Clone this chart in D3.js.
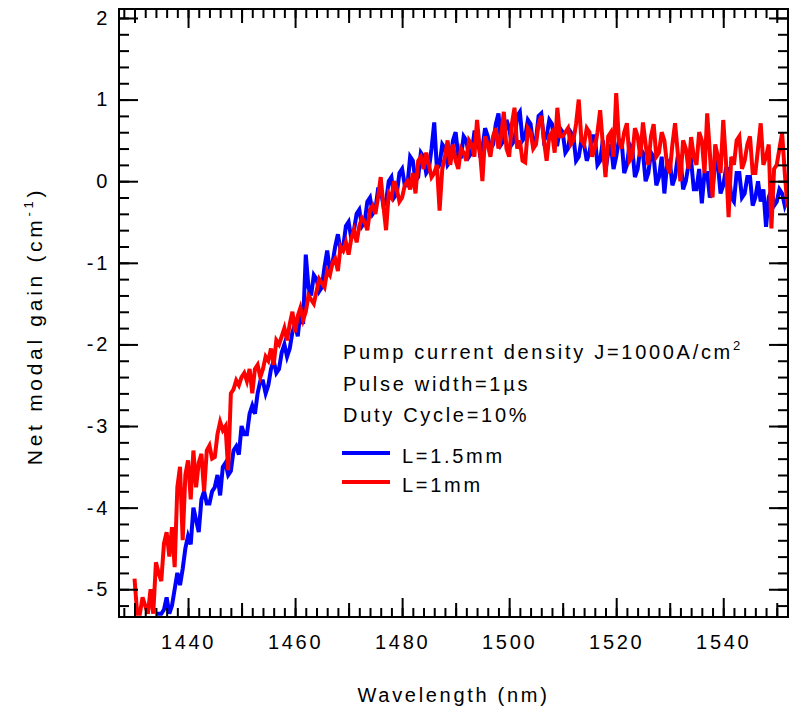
<!DOCTYPE html>
<html>
<head>
<meta charset="utf-8">
<script src="https://cdn.jsdelivr.net/npm/d3@7"></script>
<style>
  body { margin: 0; background: #fff; }
  text { font-family: "Liberation Sans", Arial, sans-serif; }
</style>
</head>
<body>
<script>
// wavelength of first point (nm) and spacing between points
var blueStart = 1434;
var redStart = 1430;
var step = 0.5;

// L=1.5mm, net modal gain (cm-1)
var blueGain = [
  -5.3, -5.3, -5.3, -5.25, -5.1, -5.3, -5.2, -5.0, -4.8, -4.95,
  -4.75, -4.5, -4.35, -4.45, -4.0, -4.15, -4.3, -3.9, -3.8, -3.95,
  -3.95, -3.8, -3.75, -3.6, -3.85, -3.5, -3.45, -3.6, -3.55, -3.3,
  -3.25, -3.35, -3.0, -3.1, -3.1, -2.85, -2.75, -2.85, -2.6, -2.45,
  -2.45, -2.6, -2.5, -2.3, -2.2, -2.35, -2.3, -2.1, -2.0, -2.15,
  -2.05, -1.85, -1.75, -1.9, -1.6, -1.75, -0.9, -1.3, -1.4, -1.15,
  -1.2, -1.35, -1.3, -1.05, -0.85, -1.1, -1.0, -0.8, -0.65, -0.85,
  -0.8, -0.55, -0.5, -0.7, -0.6, -0.4, -0.35, -0.55, -0.5, -0.25,
  -0.2, -0.4, -0.35, -0.1, -0.1, -0.3, -0.25, 0.0, 0.05, -0.2,
  -0.15, 0.1, 0.15, -0.05, -0.05, 0.3, 0.25, 0.0, 0.05, 0.35,
  0.3, 0.1, 0.15, 0.4, 0.72, 0.15, 0.2, 0.45, 0.4, 0.2,
  0.25, 0.5, 0.6, 0.3, 0.3, 0.55, 0.5, 0.3, 0.35, 0.6,
  0.6, 0.35, 0.4, 0.65, 0.55, 0.4, 0.45, 0.7, 0.83, 0.45,
  0.5, 0.75, 0.65, 0.45, 0.5, 0.8, 0.85, 0.5, 0.55, 0.75,
  0.7, 0.45, 0.5, 0.8, 0.83, 0.5, 0.55, 0.75, 0.7, 0.45,
  0.45, 0.65, 0.6, 0.35, 0.4, 0.6, 0.55, 0.25, 0.3, 0.5,
  0.45, 0.25, 0.35, 0.55, 0.55, 0.2, 0.25, 0.5, 0.13, 0.35,
  0.45, 0.15, 0.3, 0.5, 0.5, 0.1, 0.2, 0.45, 0.4, 0.05,
  0.15, 0.4, 0.35, 0.0, 0.1, 0.35, 0.3, -0.05, 0.05, 0.3,
  -0.15, 0.2, 0.25, -0.05, 0.05, 0.3, 0.3, -0.1, 0.0, 0.2,
  0.25, -0.1, -0.1, 0.15, -0.27, 0.1, 0.1, -0.2, -0.1, 0.25,
  0.2, -0.15, -0.05, 0.15, 0.15, -0.2, -0.25, 0.1, 0.1, -0.2,
  -0.15, 0.05, 0.05, -0.3, -0.2, 0.0, -0.25, -0.1, -0.56, -0.2,
  -0.1, -0.3, -0.25, -0.1, -0.15, -0.3, -0.2
];

// L=1mm
var redGain = [
  -4.87, -5.3, -5.3, -5.1, -5.2, -5.3, -5.0, -5.3, -4.67, -4.8,
  -4.9, -4.44, -4.3, -4.6, -4.24, -4.73, -3.75, -3.5, -4.4, -3.6,
  -3.42, -3.9, -3.3, -3.75, -3.45, -3.34, -3.8, -3.3, -3.24, -3.4,
  -3.38, -3.1, -2.95, -3.05, -3.0, -3.54, -2.6, -2.55, -2.44, -2.5,
  -2.4, -2.35, -2.45, -2.3, -2.6, -2.3, -2.25, -2.4, -2.3, -2.15,
  -2.2, -2.05, -2.25, -1.95, -2.0, -1.9, -1.8, -1.95, -1.75, -1.6,
  -1.85, -1.65, -1.55, -1.7, -1.6, -1.4, -1.45, -1.5, -1.35, -1.2,
  -1.25, -1.3, -1.1, -1.15, -1.0, -0.95, -1.1, -0.8, -0.85, -0.75,
  -0.9, -0.7, -0.6, -0.75, -0.55, -0.45, -0.5, -0.6, -0.35, -0.3,
  -0.4, -0.2, 0.05, -0.3, -0.6, -0.15, -0.2, 0.0, -0.1, -0.25,
  -0.2, -0.05, 0.0, -0.1, 0.1, -0.15, 0.25, 0.3, 0.15, 0.35,
  0.2, 0.05, 0.1, 0.2, -0.36, 0.15, 0.3, 0.5, 0.2, 0.45,
  0.25, 0.15, 0.4, 0.35, 0.25, 0.5, 0.45, 0.3, 0.75, 0.4,
  0.0, 0.55, 0.45, 0.3, 0.55, 0.65, 0.4, 0.55, 0.85, 0.4,
  0.3, 0.7, 0.9, 0.4, 0.5, 0.25, 0.23, 0.65, 0.6, 0.4,
  0.45, 0.7, 0.8, 0.5, 0.25, 0.55, 0.6, 0.35, 0.9, 0.55,
  0.55, 0.6, 0.65, 0.45, 0.5, 0.7, 1.0, 0.5, 0.45, 0.65,
  0.6, 0.3, 0.4, 0.6, 0.87, 0.45, 0.05, 0.55, 0.6, 0.3,
  1.08, 0.5, 0.4, 0.6, 0.71, 0.25, 0.3, 0.65, 0.55, 0.3,
  0.72, 0.45, 0.2, 0.55, 0.7, 0.3, 0.35, 0.6, 0.5, 0.2,
  0.1, 0.45, 0.71, 0.35, 0.0, 0.5, 0.4, 0.15, 0.54, 0.3,
  0.2, 0.6, 0.5, 0.1, 0.83, 0.35, -0.2, 0.45, 0.3, 0.1,
  0.75, 0.25, -0.44, 0.3, 0.2, 0.5, 0.55, 0.15, 0.25, 0.45,
  0.55, 0.1, 0.1, 0.4, 0.71, 0.2, 0.3, 0.45, -0.58, 0.15,
  0.2, 0.4, 0.59, 0.1, -0.32
];

var xMajor = [1440, 1460, 1480, 1500, 1520, 1540];
var xMid = [1430, 1450, 1470, 1490, 1510, 1530, 1550];
var yMajor = [-5, -4, -3, -2, -1, 0, 1, 2];

var legendNames = ["L=1.5mm", "L=1mm"];
var colors = ["#0000ff", "#ff0000"];

var W = 790, H = 715;
var pL = 119, pR = 788, pT = 9, pB = 617;

var svg = d3.select("body").append("svg").attr("width", W).attr("height", H);
svg.append("rect").attr("width", W).attr("height", H).attr("fill", "#fff");

var x = d3.scaleLinear().domain([1427.1, 1552.1]).range([pL, pR]);
var y = d3.scaleLinear().domain([-5.34, 2.11]).range([pB, pT]);

svg.append("clipPath").attr("id", "clip")
  .append("rect").attr("x", pL).attr("y", pT)
  .attr("width", pR - pL).attr("height", pB - pT);

function toPts(start, arr) {
  return arr.map(function(g, i) { return { w: start + i * step, g: g }; });
}

var line = d3.line().x(function(d) { return x(d.w); }).y(function(d) { return y(d.g); });

var series = [toPts(blueStart, blueGain), toPts(redStart, redGain)];
series.forEach(function(s, i) {
  svg.append("path").datum(s)
    .attr("clip-path", "url(#clip)")
    .attr("fill", "none")
    .attr("stroke", colors[i])
    .attr("stroke-width", 4)
    .attr("d", line);
});

// ticks
var xMinor = d3.range(1428, 1553, 2);
var yMinor = d3.range(-52, 21, 2).map(function(v) { return v / 10; });

function drawAxis(axis, tr, vals, size, showLabels, pad) {
  var g = svg.append("g").attr("transform", tr)
    .call(axis.tickValues(vals).tickSize(-size).tickPadding(pad || 3)
      .tickFormat(showLabels ? function(d) { return String(d); } : ""));
  g.select(".domain").remove();
  g.selectAll("line").attr("stroke", "#000").attr("stroke-width", 2);
  g.selectAll("text").attr("fill", "#000")
    .style("font-family", "'Liberation Sans', Arial, sans-serif")
    .style("font-size", "20px").style("letter-spacing", "2.7px");
  g.attr("font-size", null).attr("font-family", null);
  if (!showLabels) g.selectAll("text").remove();
  return g;
}

drawAxis(d3.axisBottom(x), "translate(0," + pB + ")", xMinor, 9, false);
drawAxis(d3.axisBottom(x), "translate(0," + pB + ")", xMid, 14, false);
drawAxis(d3.axisBottom(x), "translate(0," + pB + ")", xMajor, 19, true, 18);
drawAxis(d3.axisTop(x), "translate(0," + pT + ")", xMinor, 9, false);
drawAxis(d3.axisTop(x), "translate(0," + pT + ")", xMid, 14, false);
drawAxis(d3.axisTop(x), "translate(0," + pT + ")", xMajor, 19, false);

drawAxis(d3.axisLeft(y), "translate(" + pL + ",0)", yMinor, 10, false);
drawAxis(d3.axisLeft(y), "translate(" + pL + ",0)", yMajor, 19, true, 9);
drawAxis(d3.axisRight(y), "translate(" + pR + ",0)", yMinor, 10, false);
drawAxis(d3.axisRight(y), "translate(" + pR + ",0)", yMajor, 19, false);

// frame
svg.append("rect").attr("x", pL).attr("y", pT)
  .attr("width", pR - pL).attr("height", pB - pT)
  .attr("fill", "none").attr("stroke", "#000").attr("stroke-width", 2);

function txt(xp, yp) {
  return svg.append("text").attr("x", xp).attr("y", yp)
    .attr("font-size", 20).style("letter-spacing", "2.7px").attr("fill", "#000");
}

// axis titles
txt((pL + pR) / 2, 702).attr("text-anchor", "middle").text("Wavelength (nm)");

var yt = svg.append("text").attr("transform", "translate(42,326) rotate(-90)")
  .attr("text-anchor", "middle").attr("font-size", 21)
  .style("letter-spacing", "3.7px").attr("fill", "#000");
yt.append("tspan").text("Net modal gain (cm");
yt.append("tspan").attr("font-size", 13).attr("dy", -9).text("-1");
yt.append("tspan").attr("dy", 9).text(")");

// annotation
var a1 = txt(343, 359);
a1.append("tspan").text("Pump current density J=1000A/cm");
a1.append("tspan").attr("font-size", 13).attr("dy", -9).text("2");
txt(343, 391).text("Pulse width=1\u00b5s");
txt(343, 422).text("Duty Cycle=10%");

// legend
var legY = [453, 482];
legendNames.forEach(function(n, i) {
  svg.append("line").attr("x1", 342).attr("x2", 390)
    .attr("y1", legY[i]).attr("y2", legY[i])
    .attr("stroke", colors[i]).attr("stroke-width", 4);
  txt(402, legY[i] + 10).text(n);
});
</script>
</body>
</html>
